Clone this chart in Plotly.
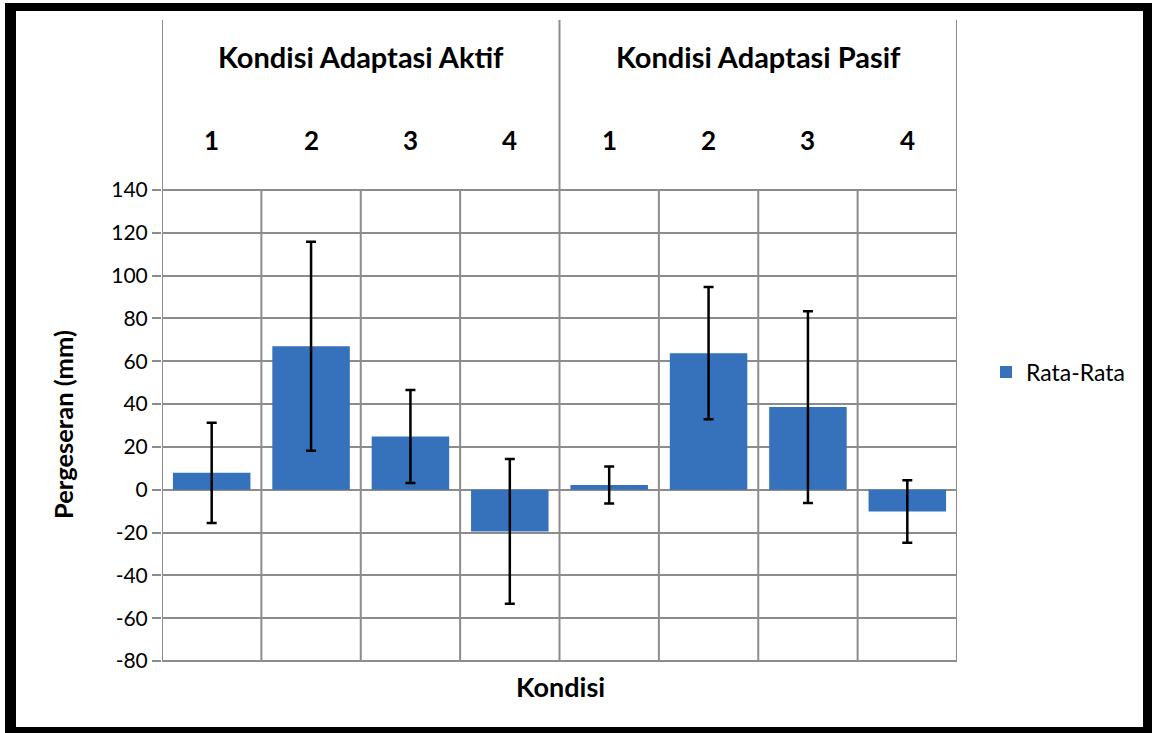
import plotly.graph_objects as go

# ---- data ----
groups = ["Kondisi Adaptasi Aktif", "Kondisi Adaptasi Pasif"]
conditions = ["1", "2", "3", "4"]
mean_aktif = [7.9, 67.0, 24.9, -19.5]
err_aktif = [23.4, 48.8, 21.7, 33.8]
mean_pasif = [2.2, 63.8, 38.6, -10.2]
err_pasif = [8.6, 30.9, 44.8, 14.6]
y_ticks = list(range(-80, 141, 20))
y_tick_labels = [str(v) for v in y_ticks]
series_name = "Rata-Rata"
x_title = "Kondisi"
y_title = "Pergeseran (mm)"

means = mean_aktif + mean_pasif
errs = err_aktif + err_pasif
n = len(means)
xpos = list(range(n))

W, H = 1152, 733
L, R, T, B = 162, 957, 20, 667  # plot area in pixels
ymin, ymax_tick = -80, 140
px_per_unit = (661 - 190) / (ymax_tick - ymin)
ybot = ymin - (B - 661) / px_per_unit
ytop = ymax_tick + (190 - T) / px_per_unit

FONT = "Lato, 'Open Sans', sans-serif"
GRID = "#8c8c8c"

def pxx(px):
    return (px - L) / (R - L)

def pxy(py):
    return (B - py) / (B - T)

fig = go.Figure()
fig.add_trace(go.Bar(
    x=xpos, y=means, name=series_name, width=0.78,
    marker=dict(color="#3671bb", line=dict(width=0)),
    error_y=dict(type="data", array=errs, visible=True, color="black",
                 thickness=2.5, width=5),
))

shapes = []
# vertical separators
for i in range(n + 1):
    xb = i - 0.5
    is_group = (i % len(conditions) == 0)
    shapes.append(dict(type="line", xref="x", yref="y", x0=xb, x1=xb,
                       y0=ymin, y1=(ytop if is_group else ymax_tick),
                       line=dict(color=GRID, width=2), layer="below"))
# outer black frame
frame = [(5, 3, 16, 733), (5, 3, 1152, 11), (1143, 3, 1152, 733), (5, 727, 1152, 733)]
for x0, y0, x1, y1 in frame:
    shapes.append(dict(type="rect", xref="paper", yref="paper",
                       x0=pxx(x0), x1=pxx(x1), y0=pxy(y1), y1=pxy(y0),
                       fillcolor="black", line=dict(width=0), layer="above"))

annotations = []
# group labels
for gi, g in enumerate(groups):
    xc = gi * len(conditions) + (len(conditions) - 1) / 2
    annotations.append(dict(x=xc, y=pxy(56), xref="x", yref="paper", text=f"<b>{g}</b>",
                            xanchor="center", yanchor="middle",
                            showarrow=False, font=dict(size=29, family=FONT, color="black")))
    for ci, c in enumerate(conditions):
        annotations.append(dict(x=gi * len(conditions) + ci, y=pxy(140), xref="x", yref="paper",
                                text=f"<b>{c}</b>", showarrow=False,
                                xanchor="center", yanchor="middle",
                                font=dict(size=26, family=FONT, color="black")))
# axis titles
annotations.append(dict(x=pxx(560), y=pxy(686), xref="paper", yref="paper", text=f"<b>{x_title}</b>",
                        xanchor="center", yanchor="middle",
                        showarrow=False, font=dict(size=27, family=FONT, color="black")))
annotations.append(dict(x=pxx(63), y=pxy(425), xref="paper", yref="paper", text=f"<b>{y_title}</b>",
                        xanchor="center", yanchor="middle",
                        showarrow=False, textangle=-90, font=dict(size=25.5, family=FONT, color="black")))

fig.update_layout(
    width=W, height=H,
    margin=dict(l=L, r=W - R, t=T, b=H - B, pad=0),
    paper_bgcolor="white", plot_bgcolor="white",
    font=dict(family=FONT, color="black", size=20),
    shapes=shapes, annotations=annotations,
    showlegend=True,
    legend=dict(x=pxx(986), y=pxy(372), xanchor="left", yanchor="middle",
                font=dict(size=23, family=FONT, color="black"), itemwidth=30,
                bgcolor="rgba(0,0,0,0)"),
    xaxis=dict(range=[-0.5, n - 0.5], showgrid=False, zeroline=False, showticklabels=False,
               showline=False, ticks="", fixedrange=True),
    yaxis=dict(range=[ybot, ytop], tickvals=y_ticks, ticktext=y_tick_labels,
               showgrid=True, gridcolor=GRID, gridwidth=2,
               zeroline=False, showline=False, ticks="outside", ticklen=9, tickwidth=2,
               tickcolor=GRID, tickfont=dict(size=21, family=FONT, color="black")),
    bargap=0.22,
)

fig.write_html("out.html", config={"displayModeBar": False},
               post_script="document.body.style.margin='0';document.body.style.overflow='hidden';")
